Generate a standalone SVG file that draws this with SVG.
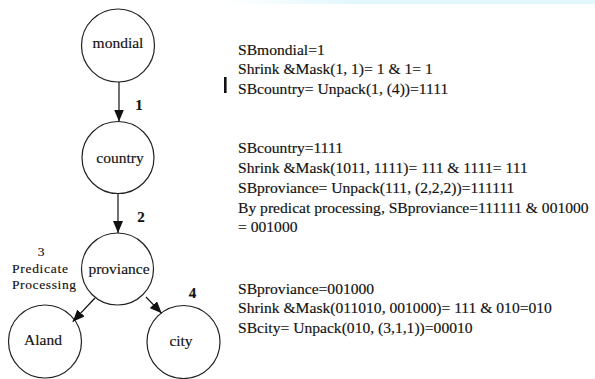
<svg xmlns="http://www.w3.org/2000/svg" width="595" height="379" viewBox="0 0 595 379">
  <defs>
    <linearGradient id="band" x1="0" y1="0" x2="1" y2="0">
      <stop offset="0" stop-color="#e6f8fc" stop-opacity="0"/>
      <stop offset="0.35" stop-color="#e2f7fb" stop-opacity="1"/>
      <stop offset="1" stop-color="#e2f7fb" stop-opacity="1"/>
    </linearGradient>
    <marker id="arrow" markerUnits="userSpaceOnUse" markerWidth="12" markerHeight="10" refX="12" refY="5" orient="auto">
      <path d="M0,0 L12,5 L0,10 Z" fill="#111"/>
    </marker>
  </defs>
  <style>
    text { font-family: 'Liberation Serif', 'DejaVu Serif', serif; fill: #111; stroke: #111; stroke-width: 0.15; }
    .node circle { fill: #fff; stroke: #222; stroke-width: 1.2; }
    .node text { font-size: 15.5px; text-anchor: middle; }
    .edge { stroke: #111; stroke-width: 1.2; fill: none; marker-end: url(#arrow); }
    .num { font-size: 15px; font-weight: bold; text-anchor: middle; }
    .note { font-size: 13.5px; }
    .calc { font-size: 15.6px; }
  </style>

  <rect width="595" height="379" fill="#fff"/>
  <rect x="220" y="0" width="375" height="4" fill="url(#band)"/>

  <!-- nodes -->
  <g id="mondial" class="node">
    <circle cx="118" cy="45.5" r="36.5"/>
    <text x="118" y="48">mondial</text>
  </g>
  <g id="country" class="node">
    <circle cx="118" cy="157.5" r="36"/>
    <text x="120" y="162.5">country</text>
  </g>
  <g id="proviance" class="node">
    <circle cx="117.5" cy="269" r="36"/>
    <text x="119" y="274">proviance</text>
  </g>
  <g id="Aland" class="node">
    <circle cx="45" cy="341.5" r="36.5"/>
    <text x="43" y="345">Aland</text>
  </g>
  <g id="city" class="node">
    <circle cx="183.5" cy="342" r="36.5"/>
    <text x="181" y="346">city</text>
  </g>

  <!-- connectors -->
  <g id="connectors">
    <line class="edge" x1="119" y1="82" x2="119" y2="121.5"/>
    <line class="edge" x1="118" y1="193.5" x2="118" y2="233"/>
    <line class="edge" x1="95" y1="298" x2="72.7" y2="321.7"/>
    <line class="edge" x1="146" y1="297" x2="161.7" y2="313.3"/>
    <text class="num" x="139" y="110">1</text>
    <text class="num" x="141" y="222">2</text>
    <text class="num" x="192.5" y="298">4</text>
    <text class="note" x="41" y="256" text-anchor="middle">3</text>
    <text class="note" x="12" y="273" textLength="56" lengthAdjust="spacing">Predicate</text>
    <text class="note" x="12" y="289" textLength="64" lengthAdjust="spacing">Processing</text>
  </g>

  <!-- computation notes -->
  <rect x="224" y="77" width="2.6" height="16" fill="#111"/>
  <g id="step1" class="calc">
    <text x="238" y="54.5">SBmondial=1</text>
    <text x="238" y="74">Shrink &amp;Mask(1, 1)= 1 &amp; 1= 1</text>
    <text x="238" y="93.5">SBcountry= Unpack(1, (4))=1111</text>
  </g>
  <g id="step2" class="calc">
    <text x="238" y="152.5">SBcountry=1111</text>
    <text x="238" y="172.5">Shrink &amp;Mask(1011, 1111)= 111 &amp; 1111= 111</text>
    <text x="238" y="192.5">SBproviance= Unpack(111, (2,2,2))=111111</text>
    <text x="238" y="212.5">By predicat processing, SBproviance=111111 &amp; 001000</text>
    <text x="238" y="232">= 001000</text>
  </g>
  <g id="step3" class="calc">
    <text x="238" y="293.5">SBproviance=001000</text>
    <text x="238" y="313">Shrink &amp;Mask(011010, 001000)= 111 &amp; 010=010</text>
    <text x="238" y="332.5">SBcity= Unpack(010, (3,1,1))=00010</text>
  </g>
</svg>
